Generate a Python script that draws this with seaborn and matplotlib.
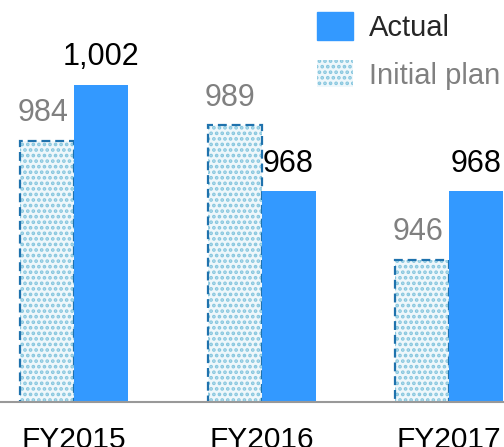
import pandas as pd
import matplotlib
matplotlib.use("Agg")
import matplotlib.pyplot as plt
import seaborn as sns
from matplotlib.patches import Rectangle, Patch

# Data
years = ["FY2015", "FY2016", "FY2017"]
initial_plan = [984, 989, 946]
actual = [1002, 968, 968]

df = pd.DataFrame({
    "year": years * 2,
    "type": ["Initial plan"] * 3 + ["Actual"] * 3,
    "value": initial_plan + actual,
})

sns.set_style("white")
plt.rcParams["font.family"] = ["Liberation Sans", "DejaVu Sans"]
plt.rcParams["hatch.linewidth"] = 1.8

fig = plt.figure(figsize=(5.04, 4.47), dpi=100)
ax = fig.add_axes([0, 45 / 447, 1, 402 / 447])

blue = "#3399ff"
dot = "#86c6de"
face = "#eef7fb"
edge = "#1f72ad"

sns.barplot(data=df, x="year", y="value", hue="type",
            hue_order=["Initial plan", "Actual"],
            palette={"Initial plan": face, "Actual": blue},
            width=0.576, gap=0, saturation=1, legend=False, ax=ax)

plan_bars = ax.containers[0]
act_bars = ax.containers[1]

for p in plan_bars:
    p.set_hatch("...")
    p.set_edgecolor(dot)
    p.set_linewidth(0)
    # dashed outline on top
    r = Rectangle(p.get_xy(), p.get_width(), p.get_height(), fill=False,
                  edgecolor=edge, linewidth=1.6, linestyle=(0, (4, 2.2)),
                  zorder=p.get_zorder() + 0.1)
    ax.add_patch(r)
for p in act_bars:
    p.set_edgecolor(blue)
    p.set_linewidth(0)
    p.set_zorder(p.get_zorder() + 0.2)

ax.set_ylim(900.6, 1029)
ax.set_xlim(-0.395, 2.293)

# value labels
for p, v in zip(plan_bars, initial_plan):
    ax.annotate(f"{v:,}", (p.get_x() + p.get_width() / 2, v), xytext=(-3, 14),
                textcoords="offset points", ha="center", va="baseline",
                fontsize=22, color="#808080")
for p, v in zip(act_bars, actual):
    ax.annotate(f"{v:,}", (p.get_x() + p.get_width() / 2, v), xytext=(0, 14),
                textcoords="offset points", ha="center", va="baseline",
                fontsize=22, color="black")

for s in ["top", "left", "right"]:
    ax.spines[s].set_visible(False)
ax.spines["bottom"].set_color("#999999")
ax.spines["bottom"].set_linewidth(1.5)
ax.set_yticks([])
ax.set_xlabel("")
ax.set_ylabel("")
ax.tick_params(axis="x", which="major", length=0, pad=17, labelsize=21.5, colors="black")
ax.set_xticks([0.5, 1.5], minor=True)
ax.tick_params(axis="x", which="minor", length=6, width=1.5, color="#999999", direction="out")

handles = [Patch(facecolor=blue, edgecolor=blue),
           Patch(facecolor=face, edgecolor=dot, hatch="...", linewidth=0)]
leg = ax.legend(handles, ["Actual", "Initial plan"], loc="upper left",
                bbox_to_anchor=(317 / 504, 1 - 12 / 402), frameon=False,
                fontsize=21, handlelength=1.23, handleheight=1.08,
                handletextpad=0.55, labelspacing=0.62, borderpad=0, borderaxespad=0)
leg.get_texts()[1].set_color("#808080")

fig.savefig("out.png", dpi=100)
